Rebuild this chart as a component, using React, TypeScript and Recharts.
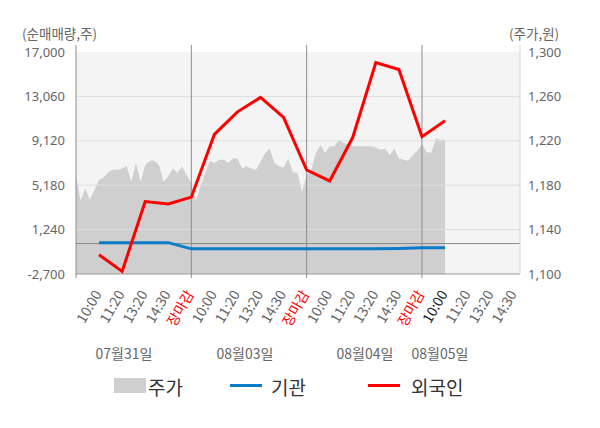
import React from "react";
import {
  ComposedChart, Area, Line, XAxis, YAxis, CartesianGrid, ReferenceLine,
} from "recharts";

// x unit = one label slot; a trading day is 5 slots, price sampled every 0.2 slot
const timeLabels = [
  "10:00", "11:20", "13:20", "14:30", "장마감",
  "10:00", "11:20", "13:20", "14:30", "장마감",
  "10:00", "11:20", "13:20", "14:30", "장마감",
  "10:00", "11:20", "13:20", "14:30",
];
const dateLabels = ["07월31일", "08월03일", "08월04일", "08월05일"];

const price = [
  1189, 1166, 1177, 1167, 1176, 1185, 1187, 1192, 1194, 1194,
  1195, 1197, 1183, 1200, 1183, 1198, 1202, 1202, 1198, 1183,
  1188, 1195, 1191, 1197, 1189, 1182, 1166, 1179, 1191, 1202,
  1200, 1203, 1203, 1200, 1204, 1204, 1195, 1197, 1195, 1194,
  1201, 1209, 1213, 1200, 1197, 1196, 1204, 1192, 1191, 1174,
  1189, 1194, 1209, 1216, 1209, 1215, 1215, 1221, 1218, 1217,
  1215, 1215, 1215, 1215, 1215, 1214, 1212, 1213, 1207, 1213,
  1204, 1203, 1202, 1207, 1211, 1217, 1210, 1209, 1222, 1221,
  1221,
];
const foreign = [
  -1000, -2470, 3730, 3520, 4120, 9690, 11690, 12970,
  11200, 6530, 5560, 9430, 16060, 15440, 9480, 10890,
];
const institution = [
  80, 80, 80, 80, -470, -470, -470, -470,
  -470, -470, -470, -470, -470, -440, -380, -380,
];

const leftTicks = [-2700, 1240, 5180, 9120, 13060, 17000];
const rightTicks = [1100, 1140, 1180, 1220, 1260, 1300];
const dayEnds = [5, 10, 15];
const X_MAX = 19.25;

const rows = price.map((p, i) => ({
  x: i / 5,
  price: p,
  foreign: i % 5 === 0 && i > 0 ? foreign[i / 5 - 1] : null,
  institution: i % 5 === 0 && i > 0 ? institution[i / 5 - 1] : null,
}));

const FONT = "'Noto Sans CJK KR', 'Noto Sans', sans-serif";
const NUM_FONT = "'Noto Sans', sans-serif";
const fmt = (v: number) => v.toLocaleString("en-US");

function TimeTick({ x, y, index }: any) {
  const label = timeLabels[index];
  let fill = "#666";
  if (label === "장마감") fill = "#ff0000";
  else if (index === 15) fill = "#222";
  return (
    <g transform={`translate(${x + 3},${y + 18})`}>
      <text textAnchor="end" transform="rotate(-60)" fontSize={14} fill={fill} fontFamily={FONT}>
        {label}
      </text>
    </g>
  );
}

export default function App() {
  return (
    <div style={{ position: "relative", width: 600, height: 428, fontFamily: FONT }}>
      <style>{`body{margin:0}`}</style>
      <ComposedChart width={600} height={428} data={rows} margin={{ top: 52, right: 0, bottom: 94, left: 0 }}>
        <CartesianGrid fill="#f4f4f4" stroke="none" horizontal={false} vertical={false} />
        <XAxis
          dataKey="x" type="number" domain={[0, X_MAX]} ticks={timeLabels.map((_, i) => i + 1)}
          interval={0} height={60} axisLine={false} tickLine={false} tickSize={0} tick={<TimeTick />}
        />
        <YAxis
          yAxisId="left" orientation="left" width={76} domain={[-2700, 17000]} ticks={leftTicks}
          tickFormatter={fmt} axisLine={false} tickLine={false} tickSize={0} tickMargin={11}
          tick={{ fontSize: 13, fill: "#666", fontFamily: NUM_FONT }}
        />
        <YAxis
          yAxisId="right" orientation="right" width={80} domain={[1100, 1300]} ticks={rightTicks}
          tickFormatter={fmt} axisLine={false} tickLine={false} tickSize={0} tickMargin={8}
          tick={{ fontSize: 13, fill: "#666", fontFamily: NUM_FONT }}
        />
        <Area
          yAxisId="right" dataKey="price" type="linear" stroke="none" fill="#cfcfcf"
          fillOpacity={1} isAnimationActive={false}
        />
        {leftTicks.slice(1, 5).map((t) => (
          <ReferenceLine key={t} yAxisId="left" y={t} stroke="#dedede" />
        ))}
        <ReferenceLine yAxisId="left" y={0} stroke="#888" />
        <ReferenceLine yAxisId="left" y={-2700} stroke="#999" />
        {[0, ...dayEnds].map((d) => (
          <ReferenceLine
            key={d} yAxisId="left" ifOverflow="visible" stroke="#8c8c8c"
            segment={[{ x: d, y: -3060 }, { x: d, y: 17620 }]}
          />
        ))}
        <ReferenceLine
          yAxisId="left" ifOverflow="visible" stroke="#d6d6d6"
          segment={[{ x: X_MAX, y: -2700 }, { x: X_MAX, y: 17620 }]}
        />
        <Line
          yAxisId="left" dataKey="institution" stroke="#0a7cc8" strokeWidth={3} dot={false}
          connectNulls isAnimationActive={false}
        />
        <Line
          yAxisId="left" dataKey="foreign" stroke="#ff0000" strokeWidth={3} dot={false}
          connectNulls isAnimationActive={false}
        />
      </ComposedChart>

      <div style={{ position: "absolute", left: 22, top: 23, fontSize: 13.5, color: "#666" }}>(순매매량,주)</div>
      <div style={{ position: "absolute", left: 509, top: 23, fontSize: 13.5, color: "#666" }}>(주가,원)</div>

      {dateLabels.map((d, i) => (
        <div
          key={d}
          style={{
            position: "absolute", top: 343, left: [124, 245, 365, 440][i],
            transform: "translateX(-50%)", fontSize: 14, color: "#666", whiteSpace: "nowrap",
          }}
        >
          {d}
        </div>
      ))}

      <div style={{ position: "absolute", left: 114, top: 378, width: 32, height: 15, background: "#cfcfcf" }} />
      <div style={{ position: "absolute", left: 148, top: 373, fontSize: 19, color: "#333" }}>주가</div>
      <div style={{ position: "absolute", left: 230, top: 384, width: 32, height: 3, background: "#0a7cc8" }} />
      <div style={{ position: "absolute", left: 271, top: 373, fontSize: 19, color: "#333" }}>기관</div>
      <div style={{ position: "absolute", left: 368, top: 384, width: 32, height: 3, background: "#ff0000" }} />
      <div style={{ position: "absolute", left: 411, top: 373, fontSize: 19, color: "#333" }}>외국인</div>
    </div>
  );
}
